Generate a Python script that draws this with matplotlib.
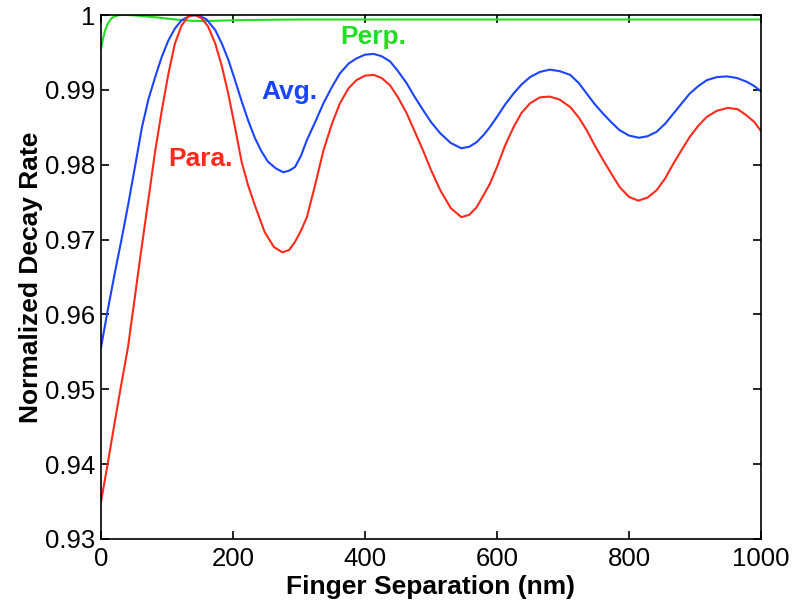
import matplotlib.pyplot as plt

# --- Data --------------------------------------------------------------------

para_x = [0, 10, 20, 30, 41, 50, 60, 72, 82, 92, 102, 112, 122, 132, 142,
          152, 162, 173, 183, 193, 203, 213, 223, 233, 248, 262, 275, 285,
          294, 303, 312, 325, 337, 350, 362, 375, 387, 400, 413, 425, 438,
          450, 463, 475, 488, 500, 514, 530, 546, 558, 569, 580, 589, 600,
          612, 625, 637, 650, 665, 680, 695, 711, 724, 736, 748, 761, 774,
          786, 800, 814, 828, 842, 855, 867, 880, 892, 905, 918, 933, 950,
          965, 978, 990, 1000]
para_y = [0.9350, 0.9400, 0.9452, 0.9503, 0.9557, 0.9615, 0.9680, 0.9755,
          0.9818, 0.9872, 0.9921, 0.9962, 0.9986, 0.9998, 1.0000, 0.9996,
          0.9985, 0.9962, 0.9932, 0.9894, 0.9850, 0.9804, 0.9772, 0.9746,
          0.9710, 0.9690, 0.9683, 0.9686, 0.9697, 0.9712, 0.9730, 0.9775,
          0.9819, 0.9855, 0.9882, 0.9902, 0.9913, 0.9919, 0.9920, 0.9916,
          0.9906, 0.9890, 0.9869, 0.9845, 0.9819, 0.9793, 0.9766, 0.9742,
          0.9730, 0.9733, 0.9743, 0.9760, 0.9774, 0.9797, 0.9825, 0.9850,
          0.9869, 0.9882, 0.9890, 0.9891, 0.9887, 0.9877, 0.9863, 0.9846,
          0.9826, 0.9806, 0.9787, 0.9770, 0.9757, 0.9752, 0.9756, 0.9766,
          0.9782, 0.9801, 0.9820, 0.9837, 0.9852, 0.9864, 0.9872, 0.9876,
          0.9874, 0.9866, 0.9857, 0.9845]

avg_x = [0, 10, 21, 31, 41, 52, 62, 72, 82, 92, 102, 112, 122, 135, 147,
         160, 173, 183, 193, 203, 213, 223, 233, 243, 253, 265, 276, 285,
         294, 303, 312, 325, 337, 350, 362, 375, 387, 400, 413, 425, 438,
         450, 463, 475, 488, 500, 514, 530, 546, 558, 569, 580, 589, 600,
         612, 625, 637, 650, 665, 680, 695, 711, 724, 736, 748, 761, 774,
         786, 800, 815, 828, 842, 855, 867, 880, 892, 905, 918, 933, 948,
         963, 978, 990, 1000]
avg_y = [0.9556, 0.9605, 0.9656, 0.9700, 0.9746, 0.9800, 0.9850, 0.9888,
         0.9917, 0.9944, 0.9966, 0.9982, 0.9993, 0.9999, 1.0000, 0.9994,
         0.9980, 0.9962, 0.9940, 0.9913, 0.9885, 0.9859, 0.9836, 0.9818,
         0.9804, 0.9795, 0.9790, 0.9792, 0.9797, 0.9812, 0.9833, 0.9858,
         0.9882, 0.9904, 0.9922, 0.9935, 0.9942, 0.9947, 0.9948, 0.9945,
         0.9938, 0.9925, 0.9909, 0.9891, 0.9873, 0.9857, 0.9842, 0.9829,
         0.9822, 0.9824, 0.9830, 0.9840, 0.9850, 0.9864, 0.9880, 0.9895,
         0.9907, 0.9917, 0.9924, 0.9927, 0.9925, 0.9920, 0.9909, 0.9895,
         0.9881, 0.9868, 0.9856, 0.9846, 0.9839, 0.9836, 0.9838, 0.9844,
         0.9855, 0.9868, 0.9882, 0.9895, 0.9905, 0.9913, 0.9917, 0.9918,
         0.9916, 0.9911, 0.9905, 0.9898]

perp_x = [0, 3, 6, 10, 15, 20, 28, 38, 50, 63, 76, 88, 100, 115, 128, 140,
          155, 170, 195, 220, 260, 300, 400, 600, 800, 1000]
perp_y = [0.9955, 0.9968, 0.9979, 0.9988, 0.9995, 0.9998, 1.0000, 1.0000,
          0.99995, 0.99985, 0.99975, 0.99965, 0.99952, 0.99938, 0.99928,
          0.99922, 0.99920, 0.99922, 0.99928, 0.99933, 0.99937, 0.99940,
          0.99940, 0.99940, 0.99940, 0.99940]

x_ticks = [0, 200, 400, 600, 800, 1000]
y_ticks = [0.93, 0.94, 0.95, 0.96, 0.97, 0.98, 0.99, 1.0]
y_tick_labels = ["0.93", "0.94", "0.95", "0.96", "0.97", "0.98", "0.99", "1"]

# --- Plot --------------------------------------------------------------------

plt.rcParams["font.family"] = ["Liberation Sans", "DejaVu Sans"]

fig = plt.figure(figsize=(7.93, 6.15), dpi=100)
ax = fig.add_axes([0.1274, 0.1236, 0.8322, 0.852])

ax.plot(perp_x, perp_y, color="#22dd22", lw=1.5)
ax.plot(avg_x, avg_y, color="#1a44ff", lw=1.5)
ax.plot(para_x, para_y, color="#ff2a1a", lw=1.5)

ax.text(412, 0.9970, "Perp.", color="#22dd22", fontsize=19, fontweight="bold",
        ha="center", va="center")
ax.text(286, 0.9897, "Avg.", color="#1a44ff", fontsize=19, fontweight="bold",
        ha="center", va="center")
ax.text(150, 0.9807, "Para.", color="#ff2a1a", fontsize=19, fontweight="bold",
        ha="center", va="center")

ax.set_xlim(0, 1000)
ax.set_ylim(0.93, 1.0)
ax.set_xticks(x_ticks)
ax.set_yticks(y_ticks)
ax.set_yticklabels(y_tick_labels)
ax.tick_params(direction="in", top=True, right=True, labelsize=18.5,
               length=6, width=1.2)
ax.tick_params(axis="y", pad=4)
ax.tick_params(axis="x", pad=6)
for s in ax.spines.values():
    s.set_linewidth(1.2)

ax.set_xlabel("Finger Separation (nm)", fontsize=19, fontweight="bold",
              labelpad=3)
ax.set_ylabel("Normalized Decay Rate", fontsize=19, fontweight="bold",
              labelpad=1.5)

fig.savefig("out.png", dpi=100)
